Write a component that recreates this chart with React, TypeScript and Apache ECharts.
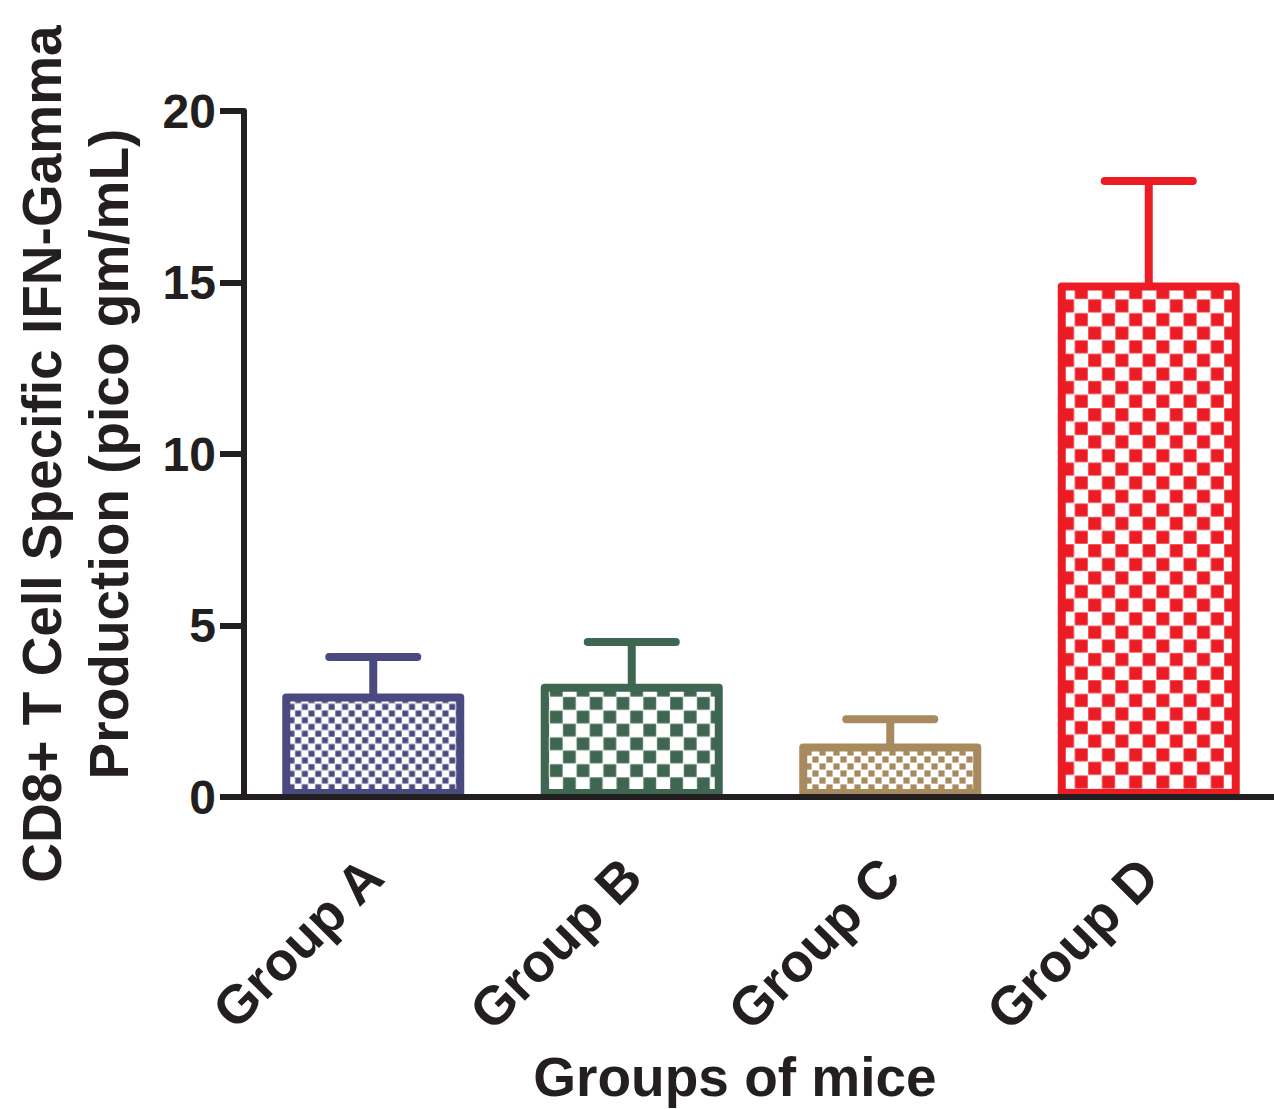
import React, { useEffect, useRef } from "react";
import * as echarts from "echarts";

const categories = ["Group A", "Group B", "Group C", "Group D"];
const means = [3.02, 3.3, 1.56, 15.0];
const upperErrors = [4.08, 4.52, 2.27, 17.96];
const barColors = ["#4b4a80", "#3e6651", "#a78a5e", "#ec1c24"];
const checkCells = [6.7, 13.4, 7, 13.6];
const yTicks = { min: 0, max: 20, interval: 5 };

const FONT = '"Liberation Sans", Arial, Helvetica, sans-serif';
const INK = "#231f20";

function makeChecker(color: string, cell: number) {
  const scale = 4;
  const c = document.createElement("canvas");
  const size = Math.round(cell * 2 * scale);
  c.width = size;
  c.height = size;
  const ctx = c.getContext("2d")!;
  ctx.fillStyle = "#ffffff";
  ctx.fillRect(0, 0, size, size);
  ctx.fillStyle = color;
  const s = size / 2;
  const gap = scale * 0.8;
  ctx.fillRect(gap / 2, gap / 2, s - gap, s - gap);
  ctx.fillRect(s + gap / 2, s + gap / 2, s - gap, s - gap);
  return { image: c, repeat: "repeat", imageWidth: cell * 2, imageHeight: cell * 2 } as any;
}

export default function App() {
  const ref = useRef<HTMLDivElement>(null);
  useEffect(() => {
    if (!ref.current) return;
    const chart = echarts.init(ref.current, null, { renderer: "svg" });
    const barData = means.map((v, i) => ({
      value: v,
      itemStyle: {
        color: makeChecker(barColors[i], checkCells[i]),
        borderColor: barColors[i],
        borderWidth: 8,
        borderJoin: "round",
      },
    }));
    const errData = means.map((v, i) => [i, v, upperErrors[i]]);
    chart.setOption({
      animation: false,
      backgroundColor: "#ffffff",
      grid: {
        left: 244,
        top: 111,
        width: 1034,
        height: 686,
        containLabel: false,
        outerBoundsMode: "none",
      },
      xAxis: {
        type: "category",
        data: categories,
        z: 10,
        axisLine: { lineStyle: { color: INK, width: 6 } },
        axisTick: { alignWithLabel: true, length: 22, lineStyle: { color: INK, width: 6 } },
        axisLabel: {
          rotate: 45,
          margin: 70,
          color: INK,
          fontFamily: FONT,
          fontWeight: "bold",
          fontSize: 54,
        },
      },
      yAxis: {
        type: "value",
        min: yTicks.min,
        max: yTicks.max,
        interval: yTicks.interval,
        z: 10,
        splitLine: { show: false },
        axisLine: { show: true, lineStyle: { color: INK, width: 6 } },
        axisTick: { show: true, length: 24, lineStyle: { color: INK, width: 6 } },
        axisLabel: {
          margin: 28,
          color: INK,
          fontFamily: FONT,
          fontWeight: "bold",
          fontSize: 48,
        },
        name: "CD8+ T Cell Specific IFN-Gamma\nProduction (pico gm/mL)",
        nameLocation: "middle",
        nameGap: 102,
        nameTextStyle: {
          color: INK,
          fontFamily: FONT,
          fontWeight: "bold",
          fontSize: 55,
          lineHeight: 67,
        },
      },
      graphic: [
        {
          type: "text",
          x: 735,
          y: 1077,
          style: {
            text: "Groups of mice",
            align: "center",
            verticalAlign: "middle",
            fill: INK,
            font: `bold 55px ${FONT}`,
          },
        },
      ],
      series: [
        {
          type: "bar",
          data: barData,
          barWidth: 182,
          z: 2,
        },
        {
          type: "custom",
          z: 1,
          data: errData,
          encode: { x: 0, y: [1, 2] },
          renderItem: (params: any, api: any) => {
            const i = api.value(0);
            const base = api.coord([i, api.value(1)]);
            const top = api.coord([i, api.value(2)]);
            const col = barColors[params.dataIndex];
            return {
              type: "group",
              children: [
                {
                  type: "line",
                  shape: { x1: base[0], y1: base[1] + 4, x2: top[0], y2: top[1] },
                  style: { stroke: col, lineWidth: 8 },
                },
                {
                  type: "line",
                  shape: { x1: top[0] - 44, y1: top[1], x2: top[0] + 44, y2: top[1] },
                  style: { stroke: col, lineWidth: 8, lineCap: "round" },
                },
              ],
            };
          },
        },
      ],
    });
    return () => chart.dispose();
  }, []);
  return (
    <div
      ref={ref}
      style={{ position: "absolute", left: 0, top: 0, width: 1274, height: 1109 }}
    />
  );
}
